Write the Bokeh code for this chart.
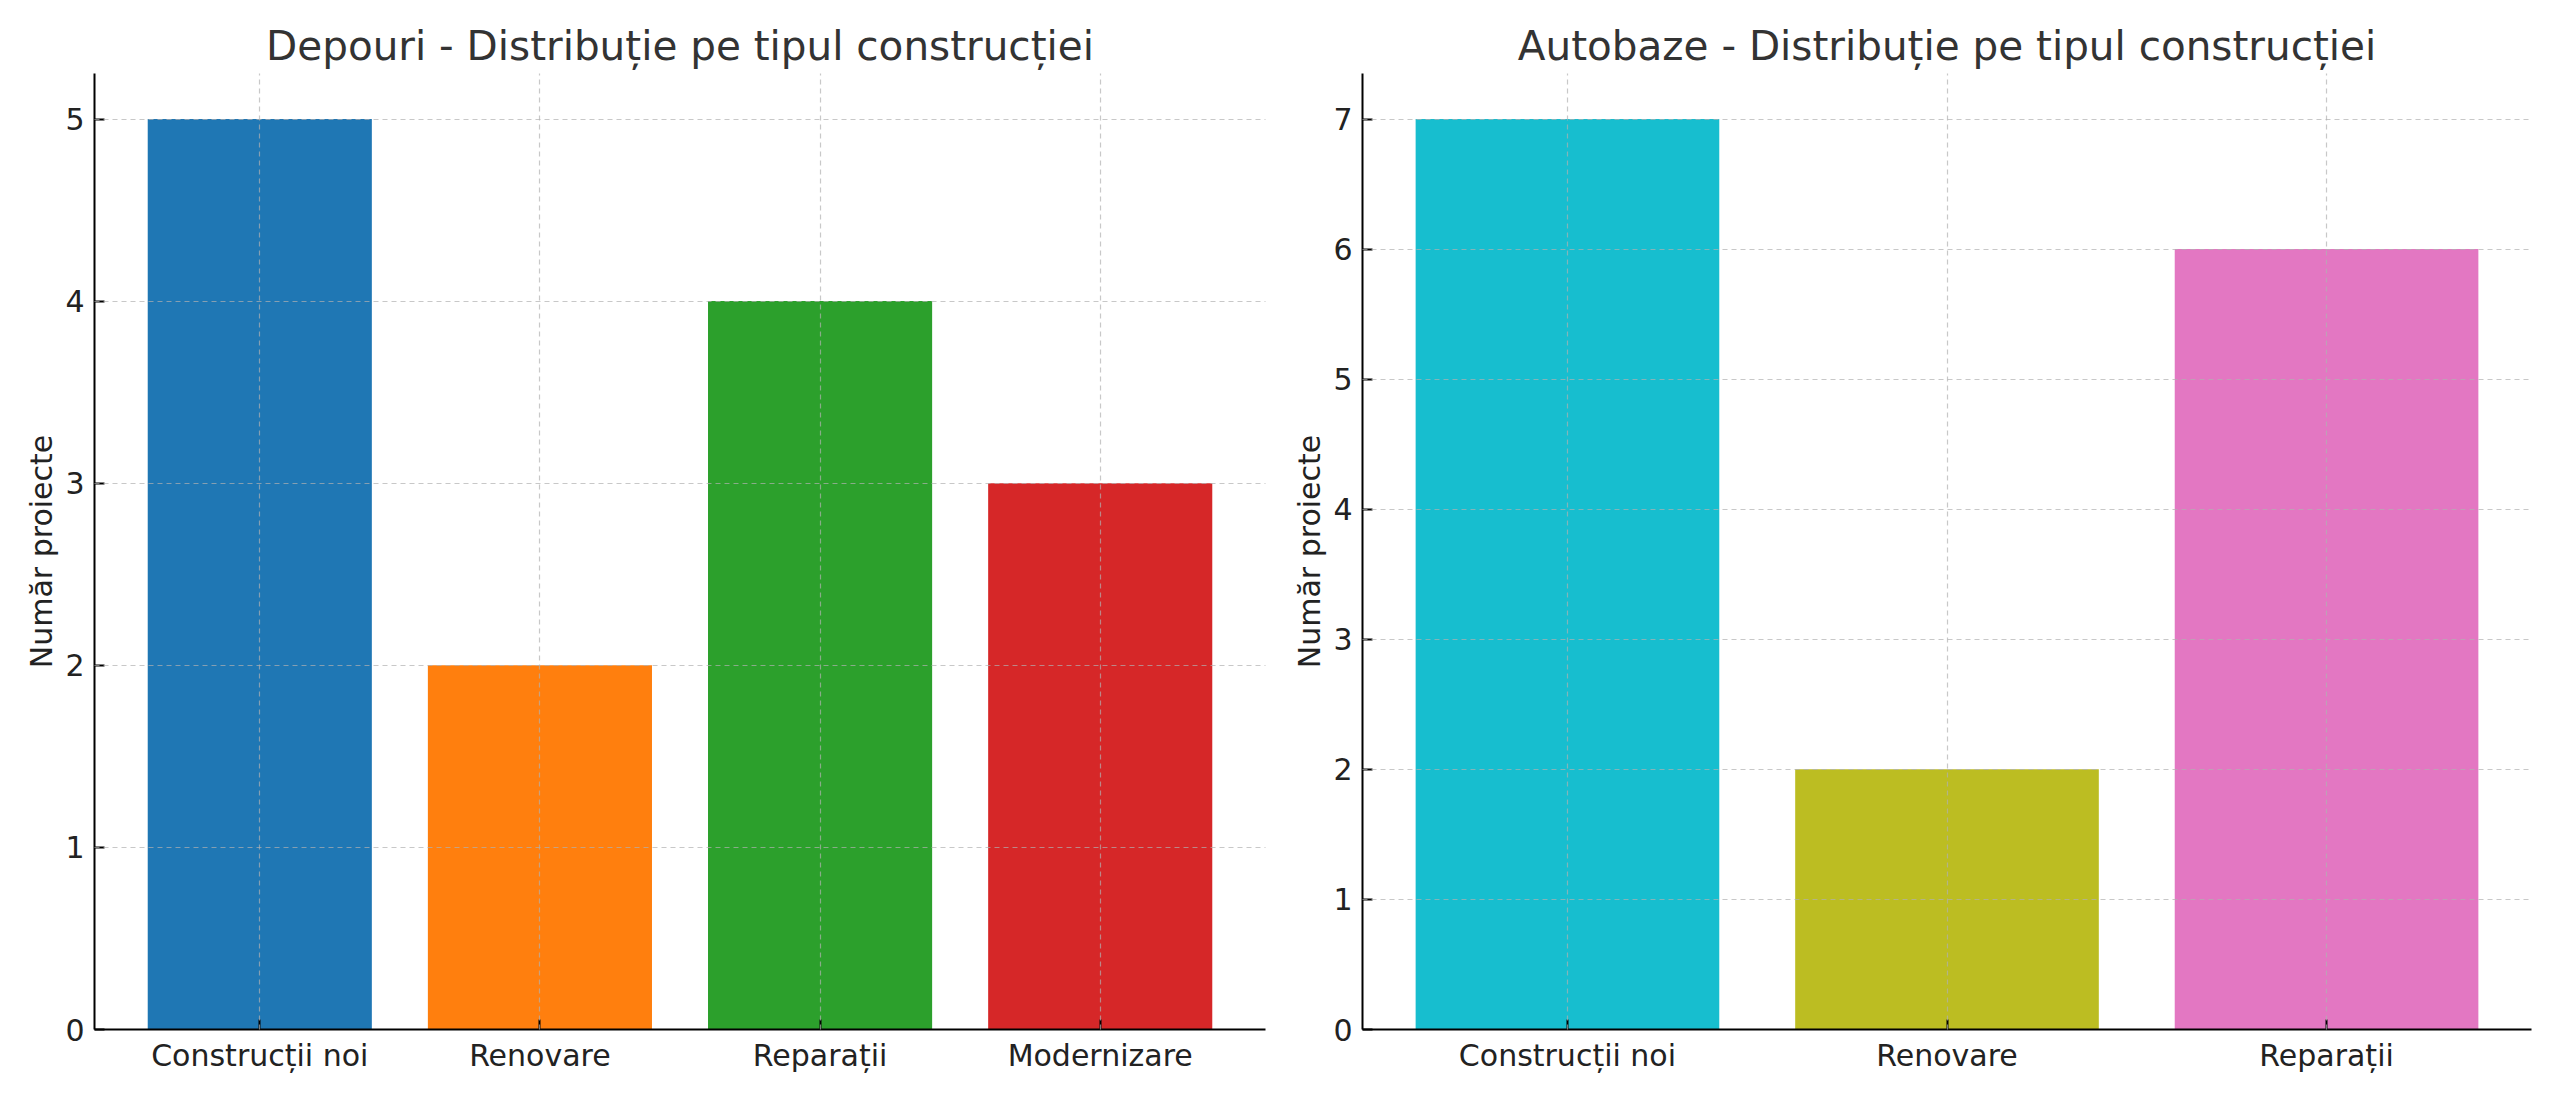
from bokeh.plotting import figure
from bokeh.layouts import row
from bokeh.models import Range1d, FixedTicker
from bokeh.embed import file_html
from bokeh.resources import INLINE

# ---- data ----
depouri_titlu = "Depouri - Distribuție pe tipul construcției"
depouri_categorii = ["Construcții noi", "Renovare", "Reparații", "Modernizare"]
depouri_valori = [5, 2, 4, 3]
depouri_culori = ["#1f77b4", "#ff7f0e", "#2ca02c", "#d62728"]
depouri_ticks_y = [0, 1, 2, 3, 4, 5]

autobaze_titlu = "Autobaze - Distribuție pe tipul construcției"
autobaze_categorii = ["Construcții noi", "Renovare", "Reparații"]
autobaze_valori = [7, 2, 6]
autobaze_culori = ["#17becf", "#bcbd22", "#e377c2"]
autobaze_ticks_y = [0, 1, 2, 3, 4, 5, 6, 7]

eticheta_y = "Număr proiecte"

FONT = "DejaVu Sans"


def make_plot(title, cats, vals, colors, yticks, width, bl, br):
    n = len(cats)
    xs = list(range(n))
    bar_w = 0.8
    pad = (n - 1 + bar_w) * 0.05
    x0 = -bar_w / 2 - pad
    x1 = n - 1 + bar_w / 2 + pad
    ymax = max(vals) * 1.05
    p = figure(width=width, height=1081, output_backend="svg", toolbar_location=None,
               x_range=Range1d(x0, x1), y_range=Range1d(0, ymax),
               min_border_left=bl, min_border_right=br, min_border_top=73,
               min_border_bottom=52)
    p.vbar(x=xs, top=vals, width=bar_w, color=colors, line_color=None)

    p.title.text = title
    p.title.align = "center"
    p.title.text_font = FONT
    p.title.text_font_size = "40.5px"
    p.title.text_font_style = "normal"
    p.title.text_color = "#333333"
    p.title.standoff = 8

    p.outline_line_color = None
    p.background_fill_color = "white"
    p.border_fill_color = "white"

    for g in (p.xgrid[0], p.ygrid[0]):
        g.grid_line_color = "#b0b0b0"
        g.grid_line_alpha = 0.7
        g.grid_line_dash = "5 4"
        g.grid_line_width = 1.2
        g.level = "overlay"

    p.xaxis.ticker = FixedTicker(ticks=xs)
    p.xaxis.major_label_overrides = {i: c for i, c in enumerate(cats)}
    p.yaxis.ticker = FixedTicker(ticks=yticks)
    for ax in (p.xaxis[0], p.yaxis[0]):
        ax.axis_line_color = "black"
        ax.axis_line_width = 2
        ax.major_tick_line_color = "black"
        ax.major_tick_line_width = 2
        ax.major_tick_in = 10
        ax.major_tick_out = 0
        ax.minor_tick_line_color = None
        ax.major_label_text_font = FONT
        ax.major_label_text_font_size = "30px"
        ax.major_label_text_color = "#222222"
    p.xaxis.major_label_standoff = 8
    p.yaxis.major_label_standoff = 10
    p.yaxis.axis_label = eticheta_y
    p.yaxis.axis_label_text_font = FONT
    p.yaxis.axis_label_text_font_size = "30px"
    p.yaxis.axis_label_text_font_style = "normal"
    p.yaxis.axis_label_text_color = "#222222"
    p.yaxis.axis_label_standoff = 3
    return p


p1 = make_plot(depouri_titlu, depouri_categorii, depouri_valori, depouri_culori,
               depouri_ticks_y, 1282, 94, 17)
p2 = make_plot(autobaze_titlu, autobaze_categorii, autobaze_valori, autobaze_culori,
               autobaze_ticks_y, 1261, 80, 12)

layout = row(p1, p2)
open("out.html", "w").write(file_html(layout, INLINE))
